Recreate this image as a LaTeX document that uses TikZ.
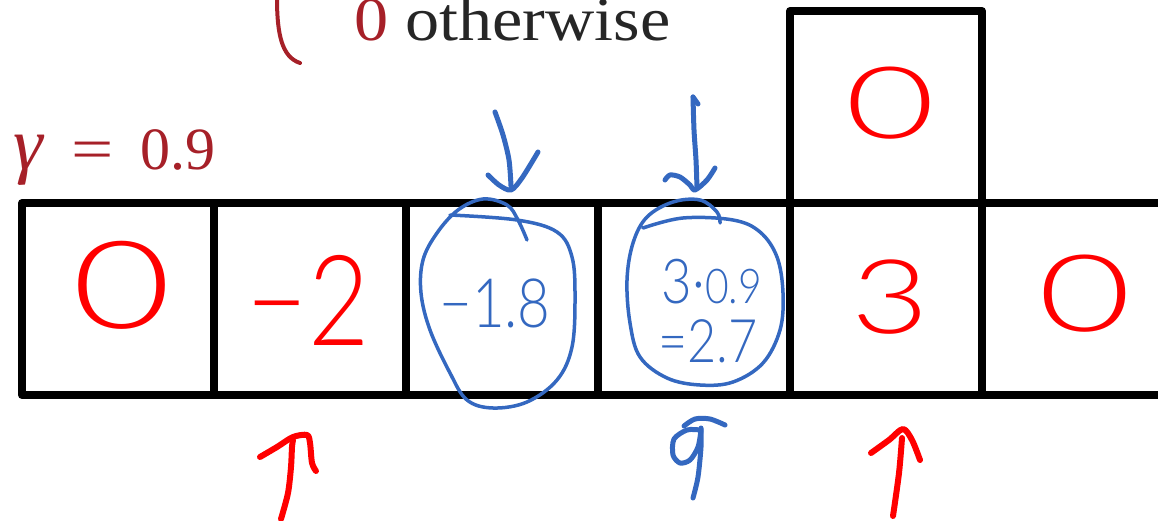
\documentclass[tikz,border=0pt]{standalone}
\usepackage{fontspec}
\IfFontExistsTF{Lato Light}{\newfontfamily\hand{Lato Light}}{%
  \IfFontExistsTF{Lato-Light.ttf}{\newfontfamily\hand{Lato-Light.ttf}}{\newfontfamily\hand{Carlito}}}
\newfontfamily\printfont{Liberation Serif}
\definecolor{hwred}{RGB}{255,0,0}
\definecolor{hwblue}{RGB}{52,104,192}
\definecolor{texred}{RGB}{166,32,40}
\definecolor{textgray}{RGB}{38,38,38}
\newcommand{\hwsize}[1]{\fontsize{#1}{#1}\selectfont}
\tikzset{
  cell/.style={draw=black, line width=8pt, minimum width=192pt, minimum height=192pt, inner sep=0pt, line join=round},
  redval/.style={text=hwred, inner sep=0pt},
  blueval/.style={text=hwblue, inner sep=0pt},
  redpen/.style={draw=hwred, line width=6pt, line cap=round, line join=round},
  bluepen/.style={draw=hwblue, line width=5pt, line cap=round, line join=round},
  ringpen/.style={draw=hwblue, line width=3.5pt, line cap=round, line join=round},
  bracketpen/.style={draw=texred, line width=4pt, line cap=round},
}
\begin{document}
\begin{tikzpicture}[x=1pt, y=-1pt]
\useasboundingbox (0,0) rectangle (1158,521);
% grid
\foreach \i/\x in {1/118,2/310,3/502,4/694,5/886,6/1078}
  \node[cell] (c\i) at (\x,299) {};
\node[cell] (ctop) at (886,107) {};
% printed text
\draw[bracketpen] (277,-2) .. controls (277,35) and (282,57) .. (300,63);
\node[anchor=base west, inner sep=0pt, text=textgray, font=\printfont\fontsize{62}{62}\selectfont] (otherwise) at (354,41) {\scalebox{1.1}[1]{\textcolor{texred}{0} otherwise}};
\node[anchor=base west, inner sep=0pt, text=texred, font=\printfont\fontsize{60}{60}\selectfont] (gamma) at (13,170) {\scalebox{1.25}{\textit{γ}}\hspace{0.45em}\scalebox{1.25}[1]{=}\hspace{0.45em}0.9};
% red handwritten values
\node[redval, font=\hand\hwsize{122}] (v1) at (122,285) {\scalebox{1.4}[1]{0}};
\node[redval, font=\hand\hwsize{126}] (v2) at (308,300) {\scalebox{0.84}[1]{−2}};
\node[redval, font=\hand\hwsize{103}] (v5) at (890,297) {\scalebox{1.3}[1]{3}};
\node[redval, font=\hand\hwsize{107}] (v6) at (1085,294) {\scalebox{1.5}[1]{0}};
\node[redval, font=\hand\hwsize{100}] (vtop) at (890,103) {\scalebox{1.55}[1]{0}};
% blue handwritten values
\node[blueval, font=\hand\hwsize{68}] (v3) at (495,303) {\scalebox{0.83}[1]{−1.8}};
\node[blueval, font=\hand\hwsize{62}] (v4a) at (712,282) {\scalebox{0.85}[1]{3·\hwsize{48}0.9}};
\node[blueval, font=\hand\hwsize{60}] (v4b) at (708,341) {\scalebox{0.84}[1]{=2.7}};
% rings
\draw[ringpen] plot[smooth, tension=0.6] coordinates {(450,215) (517,220) (557,232) (572,257) (575,297) (572,347) (557,380) (527,402) (493,408) (467,400) (450,373) (430,330) (421,293) (423,260) (437,233) (458,210) (483,199) (507,205) (518,220) (527,240)};
\draw[ringpen] plot[smooth, tension=0.6] coordinates {(643,228) (683,218) (733,220) (760,232) (777,257) (783,293) (780,330) (763,363) (733,382) (700,385) (667,378) (640,357) (630,323) (627,280) (633,243) (647,217) (673,202) (700,200) (717,212) (720,223)};
% blue down arrows
\draw[bluepen] plot[smooth] coordinates {(495,112) (503,135) (509,160) (511,186)};
\draw[bluepen] plot[smooth] coordinates {(488,175) (499,185) (511,190) (522,178) (538,152)};
\draw[bluepen] (698,104) -- (693,97);
\draw[bluepen] plot[smooth] coordinates {(693,97) (694,130) (696,160) (697,188)};
\draw[bluepen] plot[smooth] coordinates {(665,180) (670,175) (680,177) (690,185) (695,190) (707,180) (715,168)};
% red up arrows
\draw[redpen] plot[smooth] coordinates {(281,519) (288,493) (291,467) (292,447) (293,440)};
\draw[redpen] plot[smooth] coordinates {(260,457) (277,447) (293,437) (307,435) (310,443) (312,463) (316,471)};
\draw[redpen] plot[smooth] coordinates {(893,516) (899,473) (902,438)};
\draw[redpen] plot[smooth] coordinates {(871,453) (889,440) (903,429) (912,440) (920,460)};
% blue up arrow
\draw[bluepen] plot[smooth] coordinates {(693,498) (698,477) (701,447) (701,428)};
\draw[bluepen] plot[smooth] coordinates {(700,430) (687,430) (674,439) (673,455) (680,463) (690,460) (698,447) (701,430)};
\draw[bluepen] plot[smooth] coordinates {(684,426) (695,419) (710,419) (725,425)};
\end{tikzpicture}
\end{document}
